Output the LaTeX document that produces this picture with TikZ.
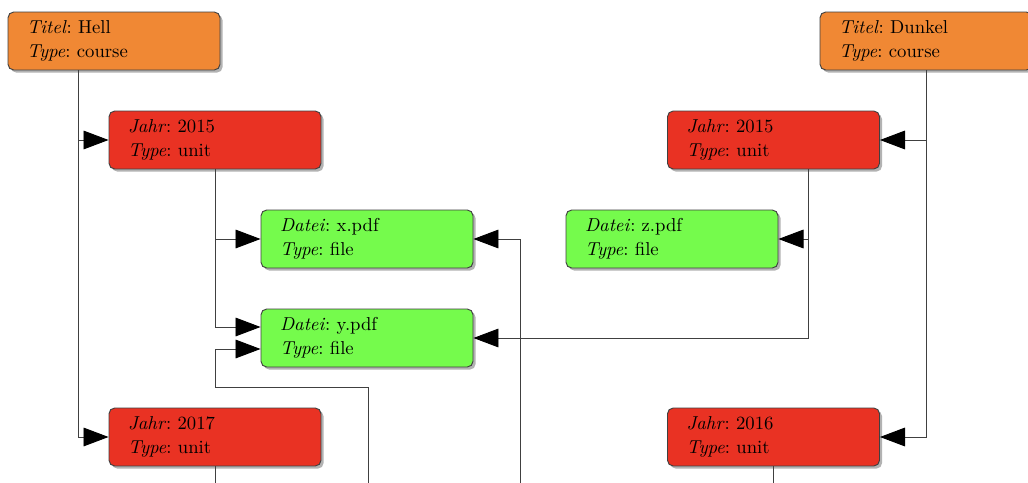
\documentclass[tikz,border=0pt]{standalone}
\usetikzlibrary{arrows.meta,shadows,calc}
\definecolor{coursec}{HTML}{F08834}
\definecolor{unitc}{HTML}{E93223}
\definecolor{filec}{HTML}{75FB4C}
\tikzset{
  box/.style={rectangle, rounded corners=3pt, draw=black!75, line width=0.5pt,
    minimum width=113.4pt, minimum height=31pt, text width=93pt,
    inner xsep=10.2pt, inner ysep=0pt, align=left,
    font=\fontsize{10}{12.8}\selectfont\frenchspacing,
    drop shadow={shadow xshift=1.4pt, shadow yshift=-1.4pt, opacity=0.6}},
  course/.style={box, fill=coursec},
  unit/.style={box, fill=unitc},
  filebox/.style={box, fill=filec},
  conn/.style={draw=black!75, line width=0.5pt},
  arr/.style={conn, -{Triangle[length=13.4pt, width=10pt, color=black, fill=black]}}
}
\begin{document}
\begin{tikzpicture}[x=0.535pt, y=-0.535pt]
\clip (0,0) rectangle (1028,483);
\fill[white] (0,0) rectangle (1028,483);
% nodes
\node[course] (hell) at (114,41) {\textit{Titel}: Hell\\\textit{Type}: course};
\node[unit] (j15l) at (215,140) {\textit{Jahr}: 2015\\\textit{Type}: unit};
\node[filebox] (xpdf) at (367,239) {\textit{Datei}: x.pdf\\\textit{Type}: file};
\node[filebox] (ypdf) at (367,338) {\textit{Datei}: y.pdf\\\textit{Type}: file};
\node[unit] (j17) at (215,437) {\textit{Jahr}: 2017\\\textit{Type}: unit};
\node[course] (dunkel) at (926,41) {\textit{Titel}: Dunkel\\\textit{Type}: course};
\node[unit] (j15r) at (773.5,140) {\textit{Jahr}: 2015\\\textit{Type}: unit};
\node[filebox] (zpdf) at (672,239) {\textit{Datei}: z.pdf\\\textit{Type}: file};
\node[unit] (j16) at (773.5,437) {\textit{Jahr}: 2016\\\textit{Type}: unit};
% free ends below the picture
\coordinate (offA) at (368,520);
\coordinate (offB) at (520,520);
\coordinate (offC) at (215,520);
\coordinate (offD) at (773.5,520);
% connectors
\coordinate (hs) at ($(hell.south)+(-36,0)$);
\draw[arr] (hs) |- (j15l.west);
\draw[arr] (hs) |- (j17.west);
\draw[arr] (j15l.south) |- (xpdf.west);
\draw[arr] (j15l.south) |- ($(ypdf.west)+(0,-11)$);
\draw[arr] (offA) |- ($(ypdf.west)+(-45,49)$) -- ($(ypdf.west)+(-45,11)$) -- ($(ypdf.west)+(0,11)$);
\draw[arr] (offB) |- (xpdf.east);
\draw[conn] (j17.south) -- (offC);
\draw[arr] (dunkel.south) |- (j15r.east);
\draw[arr] (dunkel.south) |- (j16.east);
\coordinate (rs) at ($(j15r.south)+(34.5,0)$);
\draw[arr] (rs) |- (zpdf.east);
\draw[arr] (rs) |- (ypdf.east);
\draw[conn] (j16.south) -- (offD);
\end{tikzpicture}
\end{document}
